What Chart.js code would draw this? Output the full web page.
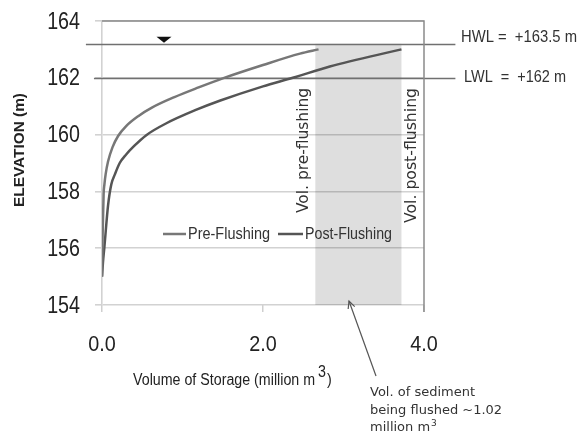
<!DOCTYPE html>
<html>
<head>
<meta charset="utf-8">
<script src="https://cdn.jsdelivr.net/npm/chart.js@4.4.1/dist/chart.umd.min.js"></script>
<style>
  html, body { margin: 0; padding: 0; background: #fff; }
  #wrap { width: 579px; height: 437px; position: relative; }
</style>
</head>
<body>
<div id="wrap"><canvas id="chart"></canvas></div>
<script>
// storage curves, volume in million m3 vs elevation in m
const preVolume = [0, 0.008, 0.02, 0.03, 0.045, 0.075, 0.13, 0.2, 0.3, 0.45, 0.62, 0.9, 1.2, 1.5, 2.0, 2.46, 2.69];
const preElevation = [155, 156.5, 157.9, 158.25, 158.6, 159.05, 159.55, 159.95, 160.3, 160.65, 160.95, 161.32, 161.66, 161.98, 162.45, 162.85, 163.0];
const postVolume = [0, 0.012, 0.03, 0.075, 0.116, 0.16, 0.22, 0.3, 0.4, 0.55, 0.8, 1.15, 1.47, 2.0, 2.37, 2.83, 3.72];
const postElevation = [155, 155.5, 156.05, 157.5, 158.25, 158.6, 159.0, 159.3, 159.6, 159.98, 160.4, 160.85, 161.2, 161.7, 162.0, 162.4, 163.0];
const seriesNames = ['Pre-Flushing', 'Post-Flushing'];
const xTicks = [0, 2, 4];
const yTicks = [154, 156, 158, 160, 162, 164];
const waterLevels = [163.2, 162];
const waterLabels = ['HWL =  +163.5 m', 'LWL  =  +162 m'];
const flushedRange = [2.65, 3.72];

const sans = "'Liberation Sans', Arial, sans-serif";
const verdana = "'DejaVu Sans', Verdana, sans-serif";

function toPoints(xs, ys) {
    return xs.map((x, i) => ({ x: x, y: ys[i] }));
}

// draw text squeezed horizontally (the original uses a narrow font)
function squeezed(ctx, text, x, y, sx) {
    ctx.save();
    ctx.translate(x, y);
    ctx.scale(sx, 1);
    ctx.fillText(text, 0, 0);
    ctx.restore();
}

function fitText(ctx, text, x, y, width) {
    const w = ctx.measureText(text).width;
    squeezed(ctx, text, x, y, width / w);
}

const overlay = {
    id: 'overlay',
    beforeDatasetsDraw(chart) {
        const ctx = chart.ctx;
        const xs = chart.scales.x, ys = chart.scales.y;
        // shaded flushed volume
        const x1 = xs.getPixelForValue(flushedRange[0]);
        const x2 = xs.getPixelForValue(flushedRange[1]);
        const yt = ys.getPixelForValue(waterLevels[0]);
        const yb = ys.getPixelForValue(154);
        ctx.save();
        ctx.fillStyle = 'rgba(0,0,0,0.13)';
        ctx.fillRect(x1, yt, x2 - x1, yb - yt);
        // HWL / LWL lines
        ctx.strokeStyle = '#707070';
        ctx.lineWidth = 1.6;
        const ends = [[-0.2, 4.39], [-0.1, 4.39]];
        waterLevels.forEach((lv, i) => {
            const y = Math.round(ys.getPixelForValue(lv)) + 0.5;
            ctx.beginPath();
            ctx.moveTo(xs.getPixelForValue(ends[i][0]), y);
            ctx.lineTo(xs.getPixelForValue(ends[i][1]), y);
            ctx.stroke();
        });
        // top and right frame
        const a = chart.chartArea;
        ctx.strokeStyle = '#8a8a8a';
        ctx.lineWidth = 1.5;
        ctx.beginPath();
        ctx.moveTo(a.left, a.top);
        ctx.lineTo(a.right, a.top);
        ctx.lineTo(a.right, a.bottom + 7);
        ctx.stroke();
        ctx.restore();
    },
    afterDraw(chart) {
        const ctx = chart.ctx;
        const xs = chart.scales.x, ys = chart.scales.y;
        ctx.save();

        // tick labels
        ctx.fillStyle = '#222';
        ctx.textBaseline = 'middle';
        ctx.font = '24px ' + sans;
        ys.ticks.forEach(t => {
            const label = String(t.value);
            const w = ctx.measureText(label).width * 0.82;
            squeezed(ctx, label, 80 - w, ys.getPixelForValue(t.value) + 1, 0.82);
        });
        ctx.font = '22px ' + sans;
        xs.ticks.forEach(t => {
            const label = t.value.toFixed(1);
            const w = ctx.measureText(label).width * 0.9;
            squeezed(ctx, label, xs.getPixelForValue(t.value) - w / 2, 345, 0.9);
        });

        // water surface marker
        const tx = xs.getPixelForValue(0.77);
        const ty = ys.getPixelForValue(waterLevels[0]);
        ctx.fillStyle = '#111';
        ctx.beginPath();
        ctx.moveTo(tx - 7.5, ty - 7);
        ctx.lineTo(tx + 7.5, ty - 7);
        ctx.lineTo(tx, ty - 1);
        ctx.closePath();
        ctx.fill();

        // level labels
        ctx.fillStyle = '#333';
        ctx.font = '17px ' + sans;
        ctx.textBaseline = 'middle';
        ctx.textAlign = 'left';
        fitText(ctx, waterLabels[0], 461, 37, 116);
        fitText(ctx, waterLabels[1], 464, 77, 102);

        // vertical volume labels
        ctx.font = '15px ' + verdana;
        ctx.fillStyle = '#333';
        [['Vol. pre-flushing', 304, 125], ['Vol. post-flushing', 412, 135]].forEach(([t, x, len]) => {
            ctx.save();
            ctx.translate(x, 88);
            ctx.rotate(-Math.PI / 2);
            ctx.textBaseline = 'middle';
            const w = ctx.measureText(t).width;
            ctx.scale(len / w, 1);
            ctx.textAlign = 'right';
            ctx.fillText(t, 0, 0);
            ctx.restore();
        });

        // legend
        const ly = ys.getPixelForValue(156.5);
        ctx.font = '17px ' + sans;
        ctx.textAlign = 'left';
        ctx.textBaseline = 'middle';
        const items = [[163, 186, 188, 82], [278, 303, 305, 87]];
        chart.data.datasets.forEach((ds, i) => {
            ctx.strokeStyle = ds.borderColor;
            ctx.lineWidth = 2.5;
            ctx.beginPath();
            ctx.moveTo(items[i][0], ly);
            ctx.lineTo(items[i][1], ly);
            ctx.stroke();
            ctx.fillStyle = '#333';
            fitText(ctx, ds.label, items[i][2], ly, items[i][3]);
        });

        // annotation arrow
        const ax = 349, ay = 301, bx = 376, by = 376;
        ctx.strokeStyle = '#555';
        ctx.lineWidth = 1.2;
        ctx.beginPath();
        ctx.moveTo(bx, by);
        ctx.lineTo(ax, ay);
        ctx.stroke();
        const ang = Math.atan2(by - ay, bx - ax);
        ctx.beginPath();
        ctx.moveTo(ax + 8 * Math.cos(ang + 0.45), ay + 8 * Math.sin(ang + 0.45));
        ctx.lineTo(ax, ay);
        ctx.lineTo(ax + 8 * Math.cos(ang - 0.45), ay + 8 * Math.sin(ang - 0.45));
        ctx.stroke();
        ctx.fillStyle = '#333';
        ctx.font = '13px ' + verdana;
        ctx.textAlign = 'left';
        ctx.fillText('Vol. of sediment', 370, 393);
        ctx.fillText('being flushed ~1.02', 370, 411);
        ctx.fillText('million m', 370, 428);
        const mw = ctx.measureText('million m').width;
        ctx.font = '9px ' + verdana;
        ctx.fillText('3', 370 + mw + 1, 424);

        // axis titles
        ctx.fillStyle = '#222';
        ctx.font = 'bold 14px ' + sans;
        ctx.save();
        ctx.translate(20, 150);
        ctx.rotate(-Math.PI / 2);
        const tw = ctx.measureText('ELEVATION (m)').width;
        ctx.scale(114 / tw, 1);
        ctx.textAlign = 'center';
        ctx.fillText('ELEVATION (m)', 0, 0);
        ctx.restore();

        ctx.font = '16px ' + sans;
        ctx.textAlign = 'left';
        const t1 = 'Volume of Storage (million m';
        const sx = 0.89;
        const w1 = ctx.measureText(t1).width * sx;
        squeezed(ctx, t1, 133, 381, sx);
        squeezed(ctx, '3', 133 + w1 + 3, 373, sx);
        squeezed(ctx, ')', 133 + w1 + 12, 381, sx);
        ctx.restore();
    }
};

new Chart(document.getElementById('chart'), {
    type: 'scatter',
    data: {
        datasets: [
            {
                label: seriesNames[0],
                data: toPoints(preVolume, preElevation),
                showLine: true,
                borderColor: '#777777',
                borderWidth: 2.5,
                pointRadius: 0,
                cubicInterpolationMode: 'monotone'
            },
            {
                label: seriesNames[1],
                data: toPoints(postVolume, postElevation),
                showLine: true,
                borderColor: '#555555',
                borderWidth: 2.5,
                pointRadius: 0,
                cubicInterpolationMode: 'monotone'
            }
        ]
    },
    options: {
        responsive: true,
        maintainAspectRatio: false,
        animation: false,
        layout: { padding: { left: 0, top: 21, right: 155, bottom: 0 } },
        plugins: {
            legend: { display: false },
            tooltip: { enabled: false }
        },
        scales: {
            x: {
                type: 'linear',
                min: 0,
                max: 4,
                afterBuildTicks: scale => { scale.ticks = xTicks.map(v => ({ value: v })); },
                afterFit: scale => { scale.height = 132; },
                grid: { drawOnChartArea: false, drawTicks: true, tickLength: 7, color: '#cfcfcf', lineWidth: 1.5 },
                border: { display: false },
                ticks: { display: false }
            },
            y: {
                type: 'linear',
                min: 154,
                max: 164,
                afterBuildTicks: scale => { scale.ticks = yTicks.map(v => ({ value: v })); },
                afterFit: scale => { scale.width = 102; },
                grid: { color: '#d2d2d2', lineWidth: 1.6, tickLength: 7 },
                border: { color: '#d2d2d2', width: 1.6 },
                ticks: { display: false }
            }
        }
    },
    plugins: [overlay]
});
</script>
</body>
</html>
